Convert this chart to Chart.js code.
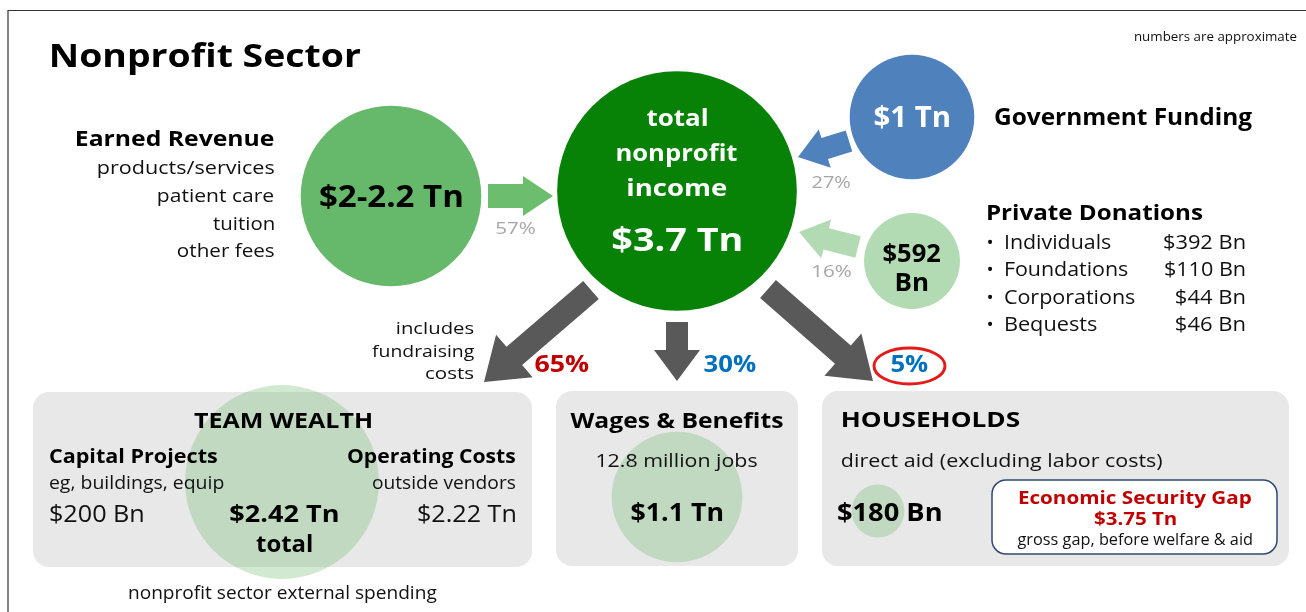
<!DOCTYPE html>
<html><head><meta charset="utf-8">
<script src="https://cdn.jsdelivr.net/npm/chart.js@4"></script>
<style>html,body{margin:0;padding:0;background:#fff;}#wrap{width:1306px;height:612px;position:relative;}</style>
</head><body><div id="wrap"><canvas id="c"></canvas></div>
<script>
// ---- data ----
const categories = ["Earned Revenue", "Total nonprofit income", "Government Funding", "Private Donations", "Team Wealth", "Wages & Benefits", "Households"];
const valuesTn = [2.1, 3.7, 1.0, 0.592, 2.42, 1.1, 0.18];
const valueLabels = ["$2-2.2 Tn", "$3.7 Tn", "$1 Tn", "$592 Bn", "$2.42 Tn", "$1.1 Tn", "$180 Bn"];
const incomeShareLabels = ["57%", "27%", "16%"];
const spendShareLabels = ["65%", "30%", "5%"];
const earnedItems = ["products/services", "patient care", "tuition", "other fees"];
const donationNames = ["Individuals", "Foundations", "Corporations", "Bequests"];
const donationValues = ["$392 Bn", "$110 Bn", "$44 Bn", "$46 Bn"];
const teamParts = ["Capital Projects", "Operating Costs"];
const teamPartNotes = ["eg, buildings, equip", "outside vendors"];
const teamPartValues = ["$200 Bn", "$2.22 Tn"];
const gapValue = "$3.75 Tn";
const jobsLabel = "12.8 million jobs";

// ---- layout (positions / styles) ----
const centers = [[391,196],[677,191],[912,117],[912,261],[282,482],[677,497],[878,511]];
const bubbleColors = ['#66b86a','#078207','#4f81bd','#b3dbb3','rgba(112,184,112,0.32)','rgba(112,184,112,0.32)','rgba(112,184,112,0.32)'];
const RADIUS_PER_SQRT_TN = 62.3;
const FONT = "'Open Sans', 'Noto Sans', sans-serif";

function arrow(ctx, x1,y1,x2,y2, sw, hw, hl, color){
  const dx=x2-x1, dy=y2-y1, L=Math.hypot(dx,dy), ux=dx/L, uy=dy/L, px=-uy, py=ux;
  const bx=x2-ux*hl, by=y2-uy*hl;
  ctx.beginPath();
  ctx.moveTo(x1+px*sw/2, y1+py*sw/2);
  ctx.lineTo(bx+px*sw/2, by+py*sw/2);
  ctx.lineTo(bx+px*hw/2, by+py*hw/2);
  ctx.lineTo(x2,y2);
  ctx.lineTo(bx-px*hw/2, by-py*hw/2);
  ctx.lineTo(bx-px*sw/2, by-py*sw/2);
  ctx.lineTo(x1-px*sw/2, y1-py*sw/2);
  ctx.closePath(); ctx.fillStyle=color; ctx.fill();
}
// text: x anchor (by align), y = visual cap-centre, size px, w = target ink width
function txt(ctx, s, x, y, size, w, opts={}){
  ctx.save();
  ctx.font = (opts.bold?'bold ':'') + size + 'px ' + FONT;
  ctx.fillStyle = opts.color || '#111';
  ctx.textAlign = 'left';
  ctx.textBaseline = 'alphabetic';
  const m = ctx.measureText(s);
  const ink = m.actualBoundingBoxLeft + m.actualBoundingBoxRight;
  const W = w || ink;
  const sx = W / ink;
  const align = opts.align || 'left';
  const left = align==='left' ? x : align==='right' ? x - W : x - W/2;
  const base = y + size*0.714/2;
  ctx.translate(left + m.actualBoundingBoxLeft*sx, base);
  ctx.scale(sx, 1);
  ctx.fillText(s, 0, 0);
  ctx.restore();
}

const background = {
  id:'background',
  beforeDatasetsDraw(chart){
    const ctx = chart.ctx;
    ctx.save();
    ctx.strokeStyle='#333'; ctx.lineWidth=1.2;
    ctx.beginPath(); ctx.moveTo(8,612); ctx.lineTo(8,10.5); ctx.lineTo(1306,10.5); ctx.stroke();
    ctx.fillStyle='#e8e8e8';
    [[33,392,499,175],[556,391,242,175],[822,391,467,175]].forEach(b=>{
      ctx.beginPath(); ctx.roundRect(b[0],b[1],b[2],b[3],16); ctx.fill();
    });
    arrow(ctx, 488,196, 553,196, 24, 40, 30, '#6dbd6f');
    arrow(ctx, 849,141, 798,157, 22, 40, 28, '#4f81bd');
    arrow(ctx, 858,247, 799,232, 22, 40, 28, '#b3dbb3');
    arrow(ctx, 591,290, 484,382, 24, 56, 40, '#595959');
    arrow(ctx, 677,322, 677,381, 22, 46, 31, '#595959');
    arrow(ctx, 768,289, 873,381, 24, 56, 40, '#595959');
    ctx.restore();
  },
  afterDatasetsDraw(chart){
    const ctx = chart.ctx;
    const pts = chart.getDatasetMeta(0).data;
    const K = '#000';
    txt(ctx, "Nonprofit Sector", 51, 55, 33, 310, {bold:true, color:K});
    txt(ctx, "numbers are approximate", 1297, 37, 12.5, 162, {align:'right'});
    // earned revenue
    txt(ctx, categories[0], 274, 139, 21, 198, {bold:true, align:'right', color:K});
    const ew = [176,116,61,96], ey=[168,196,224,251];
    earnedItems.forEach((s,i)=>txt(ctx, s, 274, ey[i], 18, ew[i], {align:'right'}));
    txt(ctx, valueLabels[0], pts[0].x, pts[0].y, 30, 142, {bold:true, align:'center', color:K});
    // central
    const cw=[61,121,99];
    ["total","nonprofit","income"].forEach((s,i)=>txt(ctx, s, pts[1].x, 118+i*35, 23, cw[i], {bold:true, align:'center', color:'#fff'}));
    txt(ctx, valueLabels[1], pts[1].x, 239, 33, 129, {bold:true, align:'center', color:'#fff'});
    // government
    txt(ctx, valueLabels[2], pts[2].x, pts[2].y, 28, 75, {bold:true, align:'center', color:'#fff'});
    txt(ctx, categories[2], 995, 117, 23, 257, {bold:true, color:K});
    // donations
    const dl = valueLabels[3].split(' ');
    txt(ctx, dl[0], pts[3].x, pts[3].y-8, 25, 57, {bold:true, align:'center', color:K});
    txt(ctx, dl[1], pts[3].x, pts[3].y+21, 25, 31, {bold:true, align:'center', color:K});
    txt(ctx, categories[3], 987, 212, 22, 216, {bold:true, color:K});
    const nw=[106,123,130,92], vw=[81,80,69,69];
    donationNames.forEach((s,i)=>{
      const y = 242 + i*27.5;
      txt(ctx, '•', 990, y, 19, null, {align:'center'});
      txt(ctx, s, 1005, y, 19.5, nw[i]);
      txt(ctx, donationValues[i], 1245, y, 19.5, vw[i], {align:'right'});
    });
    // shares
    txt(ctx, incomeShareLabels[0], 516, 228, 16, 39, {align:'center', color:'#a6a6a6'});
    txt(ctx, incomeShareLabels[1], 831, 182, 16, 39, {align:'center', color:'#a6a6a6'});
    txt(ctx, incomeShareLabels[2], 832, 271, 16, 39, {align:'center', color:'#a6a6a6'});
    const iw=[77,102,49];
    ["includes","fundraising","costs"].forEach((s,i)=>txt(ctx, s, 474, 328+i*22.5, 17, iw[i], {align:'right'}));
    txt(ctx, spendShareLabels[0], 562, 364, 23, 55, {bold:true, align:'center', color:'#c00000'});
    txt(ctx, spendShareLabels[1], 730, 364, 23, 53, {bold:true, align:'center', color:'#0070c0'});
    txt(ctx, spendShareLabels[2], 910, 364, 23, 37, {bold:true, align:'center', color:'#0070c0'});
    ctx.save(); ctx.strokeStyle='#e31b1b'; ctx.lineWidth=3;
    ctx.beginPath(); ctx.ellipse(909.5,366,35.5,18,0,0,Math.PI*2); ctx.stroke(); ctx.restore();
    // team wealth
    txt(ctx, categories[4].toUpperCase(), 282.5, 420, 22, 177, {bold:true, align:'center', color:K});
    txt(ctx, teamParts[0], 50, 456, 19.5, 167, {bold:true, color:K});
    txt(ctx, teamPartNotes[0], 50, 482, 18.5, 174);
    txt(ctx, teamPartValues[0], 50, 513, 24, 93);
    txt(ctx, teamParts[1], 515, 456, 19.5, 167, {bold:true, align:'right', color:K});
    txt(ctx, teamPartNotes[1], 515, 482, 18.5, 142, {align:'right'});
    txt(ctx, teamPartValues[1], 515, 513, 24, 97, {align:'right'});
    txt(ctx, valueLabels[4], 284, 513, 24, 107, {bold:true, align:'center', color:K});
    txt(ctx, "total", 284, 543, 24, 56, {bold:true, align:'center', color:K});
    txt(ctx, "nonprofit sector external spending", 283, 593, 18, 308, {align:'center'});
    // wages
    txt(ctx, categories[5], pts[5].x, 420, 22, 213, {bold:true, align:'center', color:K});
    txt(ctx, jobsLabel, pts[5].x, 460, 19, 161, {align:'center'});
    txt(ctx, valueLabels[5], pts[5].x, 512, 25, 91, {bold:true, align:'center', color:K});
    // households
    txt(ctx, categories[6].toUpperCase(), 842, 419, 22, 178, {bold:true, color:K});
    txt(ctx, "direct aid (excluding labor costs)", 842, 460, 19, 320);
    txt(ctx, valueLabels[6], 838, 512, 25, 103, {bold:true, color:K});
    ctx.save();
    ctx.fillStyle='#fff'; ctx.strokeStyle='#2e4a6e'; ctx.lineWidth=1.5;
    ctx.beginPath(); ctx.roundRect(992,480,285,74,14); ctx.fill(); ctx.stroke(); ctx.restore();
    txt(ctx, "Economic Security Gap", 1135, 497, 18.5, 232, {bold:true, align:'center', color:'#c00000'});
    txt(ctx, gapValue, 1135, 518, 18.5, 82, {bold:true, align:'center', color:'#c00000'});
    txt(ctx, "gross gap, before welfare & aid", 1135, 539, 15.5, 235, {align:'center'});
  }
};

new Chart(document.getElementById('c'), {
  type:'bubble',
  data:{
    labels: categories,
    datasets:[{
      label:'Nonprofit sector flows',
      data: valuesTn.map((v,i)=>({x:centers[i][0], y:centers[i][1], r:RADIUS_PER_SQRT_TN*Math.sqrt(v)})),
      backgroundColor: bubbleColors,
      borderWidth:0, hoverBorderWidth:0, clip:false
    }]
  },
  options:{
    responsive:true, maintainAspectRatio:false, animation:false, events:[],
    layout:{padding:0, autoPadding:false},
    scales:{
      x:{type:'linear', min:0, max:1306, display:false},
      y:{type:'linear', min:0, max:612, reverse:true, display:false}
    },
    plugins:{legend:{display:false}, tooltip:{enabled:false}}
  },
  plugins:[background]
});
</script></body></html>
